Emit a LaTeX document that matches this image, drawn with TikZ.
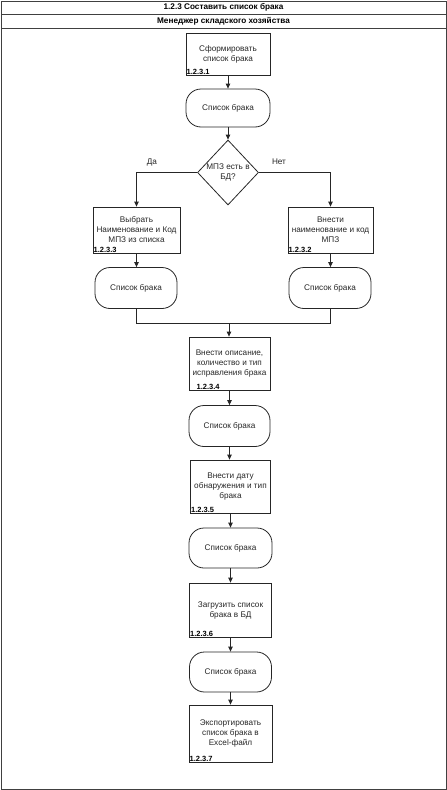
\documentclass[tikz,border=0pt]{standalone}
\usepackage{fontspec}
\setmainfont{Liberation Sans}
\usetikzlibrary{arrows.meta, shapes.geometric}

\begin{document}
\begin{tikzpicture}[x=1pt, y=-1pt, line width=0.8pt,
  every node/.style={font=\fontsize{8.2}{10}\selectfont, text=black!85},
  proc/.style={draw=black!85, rectangle, align=center, inner sep=1pt},
  term/.style={draw=black!85, rectangle, rounded corners=15pt, minimum width=82pt, minimum height=41pt},
  decis/.style={draw=black!85, diamond, align=center, inner sep=0pt, minimum width=61pt, minimum height=65pt},
  pnum/.style={font=\bfseries\fontsize{7.5}{8}\selectfont, text=black, inner sep=0.6pt, anchor=south west},
  hdr/.style={font=\bfseries\fontsize{8.2}{10}\selectfont, text=black},
  frame/.style={draw=black!75, line width=1pt},
  flow/.style={draw=black!85, -{Triangle[length=5pt, width=4.5pt]}}]
  \useasboundingbox (0,0) rectangle (447,790);

  % frame and lanes
  \draw[frame] (1,1) rectangle (446,789);
  \draw[frame] (1,14) -- (446,14) (1,28) -- (446,28);
  \node[hdr] (pool) at (223.5,7.5) {1.2.3 Составить список брака};
  \node[hdr] (lane) at (223.5,21) {Менеджер складского хозяйства};

  % steps
  \node[proc, minimum width=84pt, minimum height=42pt] (p1) at (228,54) {Сформировать\\список брака};
  \node[term, minimum width=84pt, minimum height=38pt] (t1) at (228,108) {Список брака};
  \node[decis] (d) at (228,172.5) {МПЗ есть в\\БД?};
  \node[proc, minimum width=87pt, minimum height=46pt] (p3) at (136.5,230) {Выбрать\\Наименование и Код\\МПЗ из списка};
  \node[proc, minimum width=85pt, minimum height=46pt] (p2) at (330.5,230) {Внести\\наименование и код\\МПЗ};
  \node[term] (t3) at (136,288) {Список брака};
  \node[term] (t2) at (330,288) {Список брака};
  \coordinate (j) at (229,323);
  \node[proc, minimum width=81pt, minimum height=53pt] (p4) at (229.5,363.5) {Внести описание,\\количество и тип\\исправления брака};
  \node[term, minimum width=81pt] (t4) at (229.5,426) {Список брака};
  \node[proc, minimum width=80pt, minimum height=53pt] (p5) at (230.5,486.5) {Внести дату\\обнаружения и тип\\брака};
  \node[term, minimum width=83pt, minimum height=40pt] (t5) at (230.5,548) {Список брака};
  \node[proc, minimum width=82pt, minimum height=54pt] (p6) at (230.5,610) {Загрузить список\\брака в БД};
  \node[term, minimum height=40pt] (t6) at (230.5,672) {Список брака};
  \node[proc, minimum width=83pt, minimum height=57pt] (p7) at (230.5,733.5) {Экспортировать\\список брака в\\Excel-файл};

  % numbers
  \node[pnum] (n1) at (p1.south west) {1.2.3.1};
  \node[pnum] (n3) at (p3.south west) {1.2.3.3};
  \node[pnum] (n2) at (p2.south west) {1.2.3.2};
  \node[pnum, xshift=7pt] (n4) at (p4.south west) {1.2.3.4};
  \node[pnum] (n5) at (p5.south west) {1.2.3.5};
  \node[pnum] (n6) at (p6.south west) {1.2.3.6};
  \node[pnum] (n7) at (p7.south west) {1.2.3.7};

  % branches
  \node (yes) at (152,162) {Да};
  \node (no) at (279,162) {Нет};
  \draw[flow] (d.west) -| (p3.north);
  \draw[flow] (d.east) -| (p2.north);
  \draw[draw=black!85] (t3.south) -- (t3.south |- j) -- (t2.south |- j) -- (t2.south);
  \draw[flow] (j) -- (j |- p4.north);

  \foreach \a/\b in {p1/t1, t1/d, p3/t3, p2/t2, p4/t4, t4/p5, p5/t5, t5/p6, p6/t6, t6/p7}
    \draw[flow] (\a.south) -- (\a.south |- \b.north);
\end{tikzpicture}
\end{document}
